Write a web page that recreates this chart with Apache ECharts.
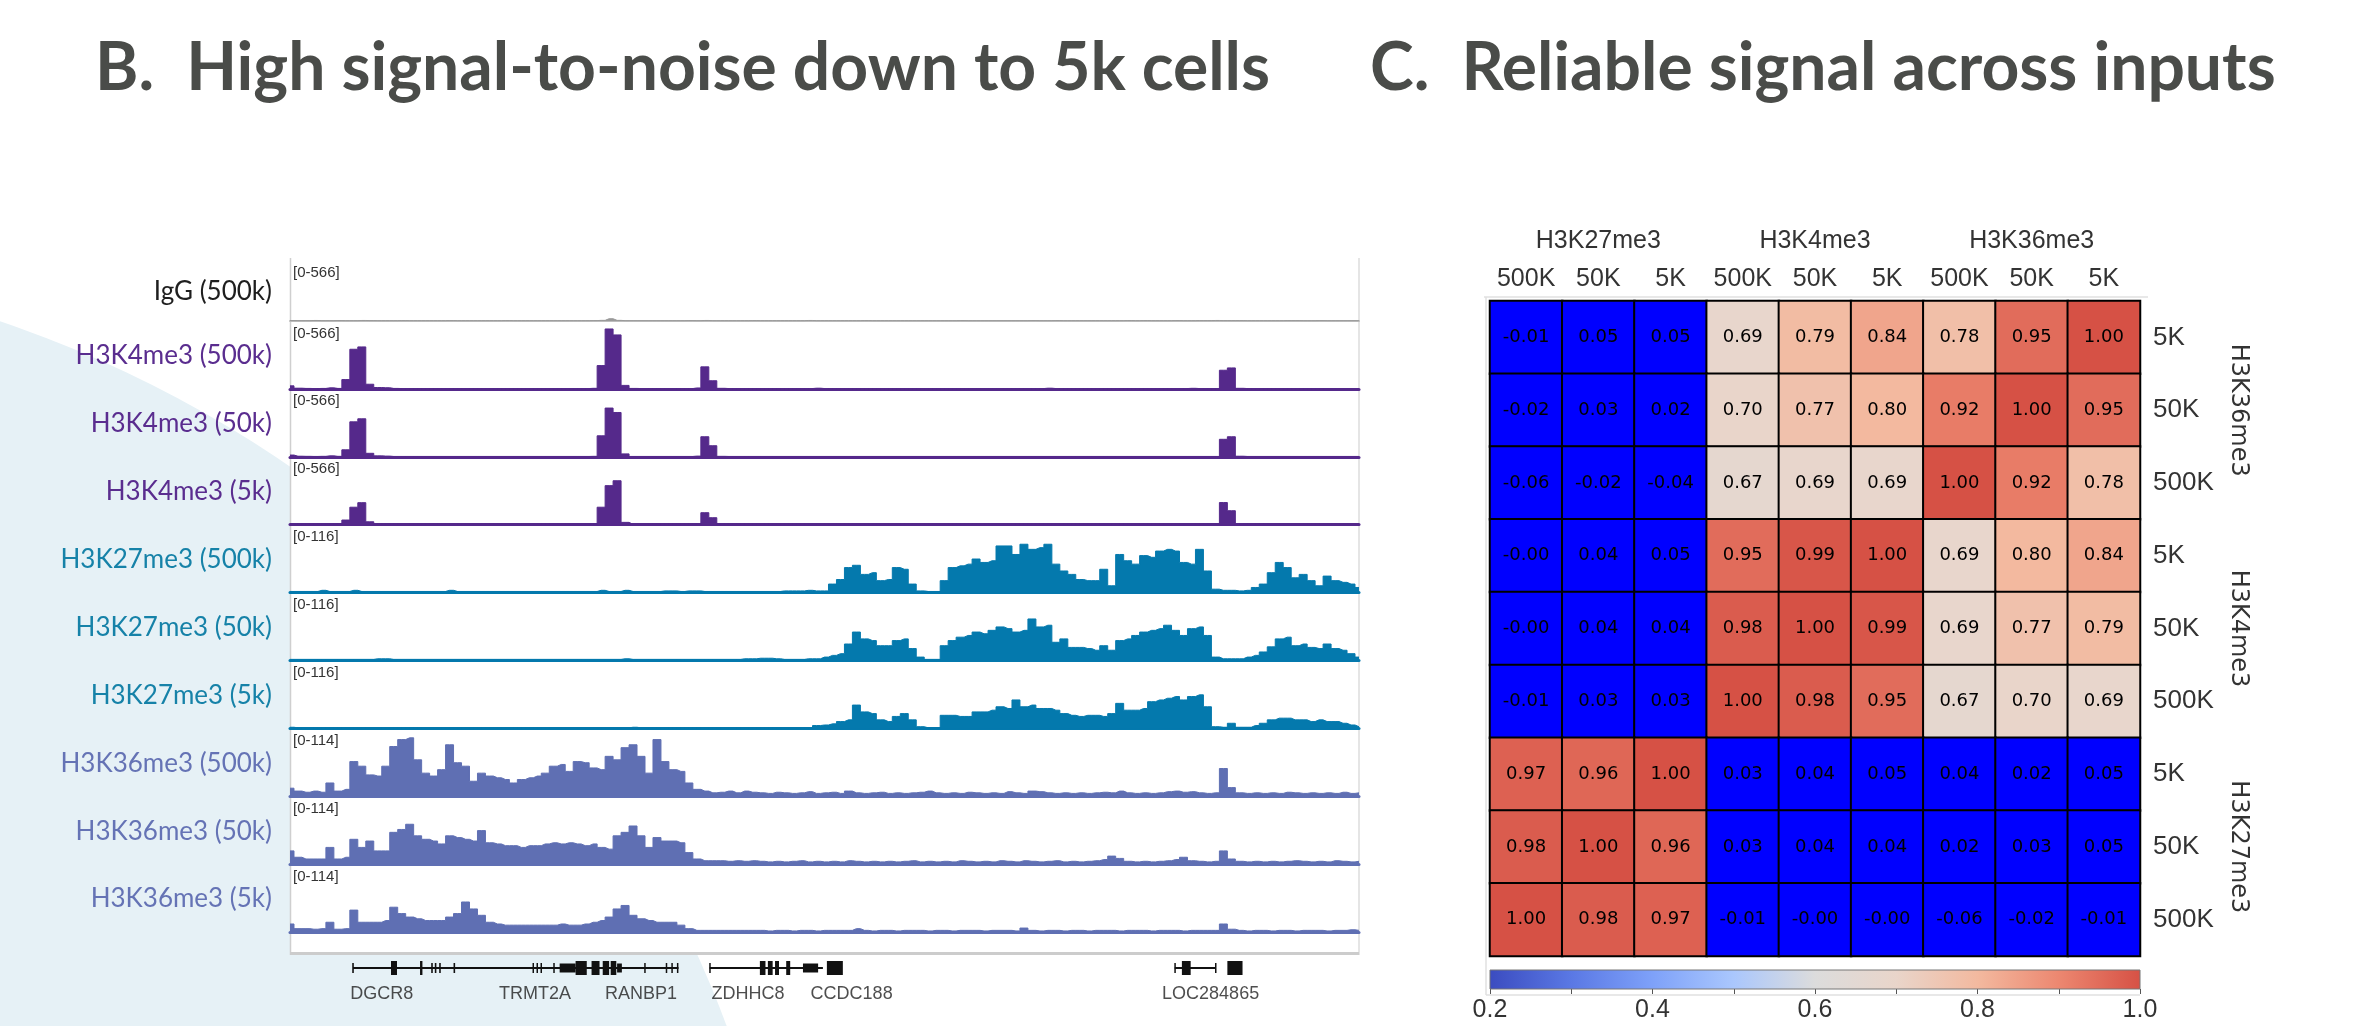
<!DOCTYPE html>
<html><head><meta charset="utf-8">
<script src="https://cdn.jsdelivr.net/npm/echarts@6/dist/echarts.min.js"></script>
<style>html,body{margin:0;padding:0;background:#fff}#c{width:2359px;height:1026px}</style>
</head><body><div id="c"></div>
<script>
// ================= DATA =================
// Panel B: genome-browser signal tracks (135 bins across the locus)
const trackNames = ['IgG (500k)', 'H3K4me3 (500k)', 'H3K4me3 (50k)', 'H3K4me3 (5k)',
  'H3K27me3 (500k)', 'H3K27me3 (50k)', 'H3K27me3 (5k)',
  'H3K36me3 (500k)', 'H3K36me3 (50k)', 'H3K36me3 (5k)'];
const trackMax = [566, 566, 566, 566, 116, 116, 116, 114, 114, 114];

const igg = [4,3,3,5,3,3,4,3,3,5, 4,3,3,3,4,3,3,3,3,3, 4,3,3,3,3,3,3,4,3,3, 3,3,3,3,3,3,3,3,4,6,
  22,6,3,3,3,3,3,3,3,3, 4,3,5,3,3,3,3,3,4,3, 3,3,3,3,3,5,3,3,3,3, 3,3,4,3,3,3,3,3,3,3,
  3,3,3,3,4,3,3,3,3,3, 3,3,3,4,3,3,4,3,3,3, 3,3,3,3,3,4,3,4,3,3, 3,4,3,3,4,4,5,4,4,4,
  3,3,3,3,3,4,4,3,3,4, 3,3,3,3,3];
const k4_500k = [26,6,4,3,4,9,4,80,340,360, 40,12,10,4,3,3,3,3,3,3, 3,3,3,3,3,3,3,3,3,3, 3,3,3,3,3,3,3,3,5,200,
  514,463,30,4,3,3,3,3,3,3, 3,8,189,70,5,3,3,3,3,3, 3,3,3,3,3,3,6,3,3,3, 3,3,3,3,3,3,3,3,3,3,
  3,3,3,3,3,3,3,3,3,3, 3,3,3,3,3,6,3,3,3,3, 3,3,3,3,3,3,3,3,3,3, 3,3,3,5,3,3,3,160,180,5,
  3,3,3,3,3,3,3,3,3,3, 3,3,3,3,3];
const k4_50k = [15,5,4,3,4,8,4,60,300,326, 30,8,6,3,3,3,3,3,3,3, 3,3,3,3,3,3,3,3,3,3, 3,3,3,3,3,3,3,3,4,180,
  418,380,25,3,3,3,3,3,3,3, 3,6,172,95,4,3,3,3,3,3, 3,3,3,3,3,3,3,3,3,3, 3,3,3,3,3,3,3,3,3,3,
  3,3,3,3,3,3,3,3,3,3, 3,3,3,3,3,3,3,3,3,3, 3,3,3,3,3,3,3,3,3,3, 3,3,3,3,3,3,3,150,172,5,
  3,3,3,3,3,3,3,3,3,3, 3,3,3,3,3];
const k4_5k = [8,4,3,3,4,6,3,40,150,189, 25,5,4,3,3,3,3,3,3,3, 3,3,3,3,3,3,3,3,3,3, 3,3,3,3,3,3,3,3,4,150,
  335,377,20,3,3,3,3,3,3,3, 3,5,103,60,4,3,3,3,3,3, 3,3,3,3,3,3,3,3,3,3, 3,3,3,3,3,3,3,3,3,3,
  3,3,3,3,3,3,3,3,3,3, 3,3,3,3,3,3,3,3,3,3, 3,3,3,3,3,3,3,3,3,3, 3,3,3,3,3,3,3,190,120,5,
  3,3,3,3,3,3,3,3,3,3, 3,3,3,3,3];
const k27_500k = [2,2,2,2,4,2,2,2,4,2, 2,2,2,2,2,2,2,2,2,2, 4,2,2,2,2,2,2,2,2,2, 2,2,2,2,2,2,2,2,2,4,
  2,2,4,2,2,2,2,3,3,2, 3,3,2,2,2,2,2,2,2,2, 2,2,3,3,3,4,3,3,15,23, 44,48,32,35,21,23,44,41,15,3,
  2,2,21,44,47,50,59,53,56,82, 82,67,85,76,79,85,50,38,32,23, 21,21,41,12,67,56,50,65,62,73,
  76,73,53,50,76,38,6,4,4,3, 4,9,15,35,53,44,26,32,21,12, 29,21,18,15,9];
const k27_50k = [2,2,2,2,2,2,2,2,2,2, 2,3,3,2,2,2,2,2,2,2, 2,2,2,2,2,2,2,2,2,2, 2,2,2,2,2,2,2,2,2,2,
  2,2,3,2,2,2,2,2,2,2, 2,2,2,2,2,2,2,3,3,4, 4,3,2,2,2,3,3,6,9,12, 29,50,38,35,26,26,35,38,21,6,
  2,2,26,35,41,44,50,47,53,59, 56,50,53,73,59,62,32,38,23,23, 21,18,26,18,35,38,44,50,53,56,
  62,53,44,56,59,44,6,3,3,3, 6,9,15,24,38,41,26,29,23,21, 29,21,18,12,6];
const k27_5k = [2,1,1,1,1,1,1,1,1,1, 1,1,1,1,1,1,1,1,1,1, 1,1,1,1,1,1,1,1,1,1, 1,1,1,1,1,1,1,1,1,1,
  1,1,1,2,1,1,1,1,1,1, 1,1,1,1,1,1,1,1,1,1, 1,1,1,1,1,1,5,6,8,12, 15,41,29,26,15,12,21,26,15,3,
  1,1,23,23,21,21,29,29,32,38, 35,50,38,41,35,35,32,26,23,21, 23,23,21,26,44,32,32,35,47,50,
  53,56,50,56,59,38,3,2,9,2, 2,5,9,15,18,18,15,15,12,15, 12,12,9,6,3];
const k36_500k = [14,9,7,9,7,23,9,12,60,52, 37,35,52,86,98,101,63,40,35,46, 89,58,52,26,40,35,32,29,23,29,
  32,35,40,52,55,43,60,58,49,46, 69,63,84,89,69,40,98,60,46,43, 23,12,9,6,7,9,6,9,7,6,
  5,7,6,5,6,8,5,6,7,5, 9,6,5,6,7,5,6,5,6,7, 9,6,5,6,5,7,6,5,6,5, 8,6,5,9,8,6,5,6,5,6,
  5,6,7,6,9,6,5,6,5,6, 8,9,7,8,6,5,6,48,15,6, 5,6,5,6,5,7,6,5,6,5, 6,5,7,5,6];
const k36_50k = [23,12,9,9,9,29,9,12,43,29, 40,23,23,55,60,69,49,43,40,35, 49,46,43,40,58,37,35,32,32,29,
  32,32,35,37,35,37,35,32,35,29, 26,49,55,66,49,29,46,40,40,37, 20,9,6,6,6,5,6,5,6,5,
  4,5,4,5,6,4,5,4,5,4, 6,5,4,5,4,5,4,5,6,4, 5,4,5,4,6,5,4,5,4,6, 5,4,6,5,4,5,6,4,5,4,
  5,6,8,14,10,5,4,5,4,5, 6,8,12,6,5,4,5,23,9,5, 4,5,4,5,4,5,6,5,4,5, 4,6,5,4,5];
const k36_5k = [14,6,6,5,6,17,5,6,38,17, 17,17,20,43,32,26,23,20,20,20, 26,32,52,40,29,17,14,12,12,12,
  12,12,12,12,14,12,12,14,17,20, 26,40,46,29,23,20,17,17,17,12, 6,3,3,3,3,3,3,3,3,3,
  2,3,3,2,3,3,2,3,3,3, 3,6,3,2,3,3,2,3,3,3, 2,3,3,2,3,3,3,2,3,3, 3,2,7,3,2,3,3,2,3,3,
  2,3,3,3,2,3,3,3,2,3, 3,3,2,3,3,3,3,14,5,3, 2,3,3,2,3,3,2,3,3,3, 2,3,3,4,3];

// gene annotation: [start bin, end bin, feature kind] kind: 0 intron line, 1 coding exon, 2 UTR, 3 small exon tick
const geneParts = [
  [7.9, 48.7, 0], [52.6, 66.8, 0], [110.9, 116.0, 0],
  [7.8, 8.0, 3], [12.66, 13.41, 1], [16.3, 16.6, 1], [17.7, 17.9, 3], [18.15, 18.35, 3], [18.7, 18.9, 3], [20.5, 20.7, 3],
  [30.4, 30.55, 3], [30.9, 31.05, 3], [31.4, 31.55, 3], [33.0, 33.15, 3],
  [33.8, 35.8, 2], [35.8, 37.2, 1], [37.8, 38.8, 1], [39.2, 40.0, 1], [40.2, 40.9, 1], [41.0, 41.6, 2],
  [44.4, 44.55, 3], [47.1, 47.25, 3], [47.8, 47.95, 3], [48.5, 48.65, 3],
  [52.55, 52.7, 3], [58.9, 59.6, 1], [59.9, 60.5, 1], [60.8, 61.3, 1], [62.2, 62.7, 1], [64.3, 66.2, 2],
  [67.3, 69.3, 1],
  [110.85, 111.0, 3], [111.8, 112.9, 1], [115.95, 116.1, 3], [117.5, 119.4, 1]
];
const geneLabels = [[11.5, 'DGCR8'], [30.7, 'TRMT2A'], [44.0, 'RANBP1'], [57.4, 'ZDHHC8'], [70.4, 'CCDC188'], [115.4, 'LOC284865']];

// Panel C: correlation heatmap
const markNames = ['H3K27me3', 'H3K4me3', 'H3K36me3'];
const inputSizes = ['500K', '50K', '5K'];
// rows top->bottom: H3K36me3 5K,50K,500K, H3K4me3 5K,50K,500K, H3K27me3 5K,50K,500K
// cols left->right: H3K27me3 500K,50K,5K, H3K4me3 500K,50K,5K, H3K36me3 500K,50K,5K
const corrRows = [
  [-0.01, 0.05, 0.05, 0.69, 0.79, 0.84, 0.78, 0.95, 1.00],
  [-0.02, 0.03, 0.02, 0.70, 0.77, 0.80, 0.92, 1.00, 0.95],
  [-0.06, -0.02, -0.04, 0.67, 0.69, 0.69, 1.00, 0.92, 0.78],
  [-0.004, 0.04, 0.05, 0.95, 0.99, 1.00, 0.69, 0.80, 0.84],
  [-0.003, 0.04, 0.04, 0.98, 1.00, 0.99, 0.69, 0.77, 0.79],
  [-0.01, 0.03, 0.03, 1.00, 0.98, 0.95, 0.67, 0.70, 0.69],
  [0.97, 0.96, 1.00, 0.03, 0.04, 0.05, 0.04, 0.02, 0.05],
  [0.98, 1.00, 0.96, 0.03, 0.04, 0.04, 0.02, 0.03, 0.05],
  [1.00, 0.98, 0.97, -0.01, -0.003, -0.004, -0.06, -0.02, -0.01]
];
const cbMin = 0.2, cbMax = 1.0;

// ================= STYLE / LAYOUT =================
const tracks = [igg, k4_500k, k4_50k, k4_5k, k27_500k, k27_50k, k27_5k, k36_500k, k36_50k, k36_5k];
const N = igg.length;
const PURPLE = '#55298b', TEAL = '#0479ad', SLATE = '#5f6fb3';
const fillColors = ['#9a9a9a', PURPLE, PURPLE, PURPLE, TEAL, TEAL, TEAL, SLATE, SLATE, SLATE];
const lineColors = ['#bdbdbd', PURPLE, PURPLE, PURPLE, TEAL, TEAL, TEAL, SLATE, SLATE, SLATE];
const nameColors = ['#1e1e1e', '#5a2d8f', '#5a2d8f', '#5a2d8f', '#1682a8', '#1682a8', '#1682a8', '#6573b5', '#6573b5', '#6573b5'];
const cmap = ['#3b4cc0', '#5a78e4', '#7ea1f9', '#aac7fd', '#dcdcdc', '#e9d5ca', '#f3b99f', '#ec8770', '#d65145'];
const L = { left: 290, width: 1069, base0: 321, step: 67.9, h: 66 };

const grids = [], xAxes = [], yAxes = [], series = [];
const hidden = { axisLine: { show: false }, axisTick: { show: false }, axisLabel: { show: false }, splitLine: { show: false } };

tracks.forEach((d, k) => {
  const base = L.base0 + L.step * k;
  const top = k === 0 ? 262 : base - L.h;
  grids.push({ left: L.left, width: L.width, top: top, height: base - top, containLabel: false, outerBoundsMode: 'none' });
  xAxes.push(Object.assign({}, hidden, { type: 'value', gridIndex: k, min: 0, max: N - 1,
    axisLine: { show: true, onZero: false, lineStyle: { color: lineColors[k], width: k === 0 ? 2 : 3 } } }));
  yAxes.push(Object.assign({}, hidden, { type: 'value', gridIndex: k, min: 0, max: trackMax[k],
    name: '[0-' + trackMax[k] + ']', nameLocation: 'end', nameGap: -3,
    nameTextStyle: { align: 'left', verticalAlign: 'top', fontSize: 15, color: '#333', fontFamily: 'Liberation Sans', padding: [0, 0, 0, 3] } }));
  series.push({ type: 'line', xAxisIndex: k, yAxisIndex: k, data: d.map((v, i) => [i, v]), symbol: 'none', step: 'middle',
    lineStyle: { width: 1, color: fillColors[k] }, areaStyle: { color: fillColors[k], opacity: 1 }, silent: true, z: 3 });
});
tracks.forEach((d, k) => {
  yAxes.push(Object.assign({}, hidden, { type: 'value', gridIndex: k, min: 0, max: 1, position: 'left',
    name: trackNames[k], nameLocation: 'middle', nameRotate: 0, nameGap: 18,
    nameTextStyle: { align: 'right', verticalAlign: 'middle', fontSize: 26, color: nameColors[k], fontFamily: 'Lato' } }));
});

// gene track grid (10)
grids.push({ left: L.left, width: L.width, top: 953, height: 30, containLabel: false, outerBoundsMode: 'none' });
xAxes.push({ type: 'value', gridIndex: 10, min: 0, max: N - 1, show: false });
yAxes.push({ type: 'value', gridIndex: 10, min: -1, max: 1, show: false });
const partH = [2, 14, 9, 10];
series.push({ type: 'custom', xAxisIndex: 10, yAxisIndex: 20, data: geneParts, silent: true,
  encode: { x: [0, 1], y: 2 },
  renderItem: function (params, api) {
    const kind = api.value(2);
    const p0 = api.coord([api.value(0), 0]), p1 = api.coord([api.value(1), 0]);
    const h = partH[kind];
    return { type: 'rect', shape: { x: p0[0], y: p0[1] - h / 2, width: Math.max(p1[0] - p0[0], 1.5), height: h }, style: { fill: '#111' } };
  } });
series.push({ type: 'scatter', xAxisIndex: 10, yAxisIndex: 20, silent: true, symbolSize: 0.01,
  itemStyle: { color: 'rgba(0,0,0,0)' },
  data: geneLabels.map(g => ({ name: g[1], value: [g[0], 0] })),
  label: { show: true, position: 'bottom', distance: 17, formatter: '{b}', fontSize: 18, color: '#222', fontFamily: 'Liberation Sans' } });

// heatmap grid (11)
const colKeys = [], rowKeys = [];
markNames.forEach(m => inputSizes.forEach(s => colKeys.push(m + '|' + s)));
const rowMarks = markNames.slice().reverse(), rowSizes = inputSizes.slice().reverse();
rowMarks.forEach(m => rowSizes.forEach(s => rowKeys.push(m + '|' + s)));
const heatData = [];
corrRows.forEach((row, r) => row.forEach((v, c) => heatData.push([c, r, v])));
const lblFont = { fontSize: 25, color: '#333', fontFamily: 'Liberation Sans' };

grids.push({ left: 1490, top: 301, width: 650, height: 655, containLabel: false, outerBoundsMode: 'none' });
xAxes.push(Object.assign({}, hidden, { type: 'category', gridIndex: 11, position: 'top', data: colKeys,
  axisLabel: Object.assign({ show: true, interval: 0, margin: 9, formatter: v => v.split('|')[1] }, lblFont) }));
xAxes.push(Object.assign({}, hidden, { type: 'category', gridIndex: 11, position: 'top', offset: 38, data: markNames,
  axisLabel: Object.assign({ show: true, interval: 0, margin: 9 }, lblFont) }));
yAxes.push(Object.assign({}, hidden, { type: 'category', gridIndex: 11, position: 'right', inverse: true, data: rowKeys,
  axisLabel: Object.assign({ show: true, interval: 0, margin: 13, formatter: v => v.split('|')[1] }, lblFont, { fontSize: 26 }) }));
yAxes.push(Object.assign({}, hidden, { type: 'category', gridIndex: 11, position: 'right', inverse: true, offset: 86, data: rowMarks,
  axisLabel: { show: true, interval: 0, rotate: -90, margin: 0, fontSize: 24, color: '#333', fontFamily: 'DejaVu Sans' } }));
series.push({ type: 'heatmap', xAxisIndex: 11, yAxisIndex: 21, data: heatData, silent: true,
  itemStyle: { borderColor: '#000', borderWidth: 2 },
  label: { show: true, formatter: p => p.value[2].toFixed(2), fontSize: 18, color: '#000', fontFamily: 'DejaVu Sans' } });
const heatSeriesIndex = series.length - 1;

// colorbar grid (12)
grids.push({ left: 1490, top: 970, width: 650, height: 19, containLabel: false, outerBoundsMode: 'none' });
xAxes.push({ type: 'value', gridIndex: 12, min: cbMin, max: cbMax, interval: 0.2, position: 'bottom',
  axisLine: { show: false }, splitLine: { show: false },
  axisTick: { show: true, length: 5, lineStyle: { color: '#555' } },
  minorTick: { show: true, splitNumber: 2, length: 5, lineStyle: { color: '#555' } },
  axisLabel: Object.assign({ margin: 9, formatter: v => v.toFixed(1) }, lblFont) });
yAxes.push({ type: 'value', gridIndex: 12, min: 0, max: 1, show: false });
series.push({ type: 'custom', xAxisIndex: 13, yAxisIndex: 23, data: [[cbMin, cbMax]], silent: true,
  renderItem: function (params, api) {
    const a = api.coord([api.value(0), 1]), b = api.coord([api.value(1), 0]);
    return { type: 'rect', shape: { x: a[0], y: a[1], width: b[0] - a[0], height: b[1] - a[1] },
      style: { fill: new echarts.graphic.LinearGradient(0, 0, 1, 0, cmap.map((c, i) => ({ offset: i / (cmap.length - 1), color: c }))), stroke: '#777', lineWidth: 1 } };
  } });

const titleStyle = { fontFamily: 'Lato', fontWeight: 'bold', fontSize: 66, color: '#4a4c49' };
const chart = echarts.init(document.getElementById('c'), null, { renderer: 'canvas' });
chart.setOption({
  animation: false,
  backgroundColor: '#ffffff',
  title: [
    { text: 'B.  High signal-to-noise down to 5k cells', left: 90, top: 31, textStyle: titleStyle },
    { text: 'C.  Reliable signal across inputs', left: 1365, top: 31, textStyle: titleStyle }
  ],
  graphic: { elements: [
    { type: 'circle', shape: { cx: -378, cy: 1438, r: 1179 }, style: { fill: '#e6f1f6' }, z: -10, silent: true },
    { type: 'rect', shape: { x: 290, y: 258, width: 1069, height: 697 }, style: { fill: '#ffffff' }, z: -9, silent: true },
    { type: 'line', shape: { x1: 290.5, y1: 258, x2: 290.5, y2: 955 }, style: { stroke: '#cfcfcf', lineWidth: 1.5 }, z: -8, silent: true },
    { type: 'line', shape: { x1: 1359, y1: 258, x2: 1359, y2: 955 }, style: { stroke: '#dcdcdc', lineWidth: 1.5 }, z: -8, silent: true },
    { type: 'line', shape: { x1: 290, y1: 953.5, x2: 1359, y2: 953.5 }, style: { stroke: '#cccccc', lineWidth: 3 }, z: -8, silent: true },
    { type: 'line', shape: { x1: 1484, y1: 297, x2: 2148, y2: 297 }, style: { stroke: '#e0e0e0', lineWidth: 1.5 }, silent: true },
    { type: 'line', shape: { x1: 1486, y1: 297, x2: 1486, y2: 995 }, style: { stroke: '#e0e0e0', lineWidth: 1.5 }, silent: true },
    { type: 'line', shape: { x1: 1486, y1: 995, x2: 2140, y2: 995 }, style: { stroke: '#e0e0e0', lineWidth: 1.5 }, silent: true }
  ] },
  visualMap: { type: 'continuous', show: false, min: cbMin, max: cbMax, range: [cbMin + 1e-6, cbMax],
    seriesIndex: heatSeriesIndex, dimension: 2,
    inRange: { color: cmap }, outOfRange: { color: '#0000ff' } },
  grid: grids, xAxis: xAxes, yAxis: yAxes, series: series
});
</script></body></html>
